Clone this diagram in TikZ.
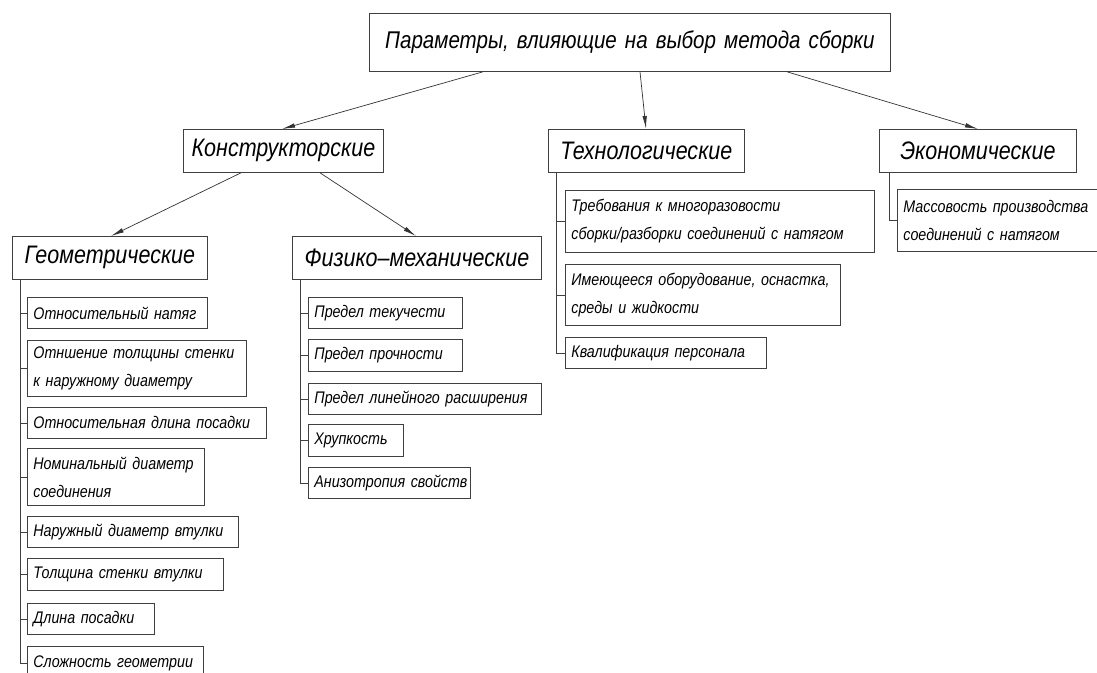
\documentclass[tikz,border=0pt]{standalone}
\usepackage{fontspec}
\setmainfont{Liberation Sans}[FakeStretch=0.85]
\usetikzlibrary{arrows.meta}
\newcommand\paramfont{\fontsize{24.2}{28}\selectfont\itshape}
\newcommand\grpfont{\fontsize{25.3}{30}\selectfont\itshape}
\newcommand\itemfont{\fontsize{16.8}{28}\selectfont\itshape}
\tikzset{
  box/.style={draw=black!75, line width=0.8pt, anchor=north west, inner xsep=6pt, inner ysep=0pt, align=left},
  grp/.style={box, font=\grpfont, minimum height=43pt, align=center},
  leaf/.style={box, font=\itemfont, minimum height=31pt},
  arr/.style={draw=black!80, line width=0.7pt, -{Latex[length=13pt,width=4.5pt]}},
  trunk/.style={draw=black!75, line width=0.7pt}
}
\begin{document}
\begin{tikzpicture}[x=1pt,y=1pt,yscale=-1,xscale=1]
\useasboundingbox[fill=white] (0,0) rectangle (1097,672);
\node[box, font=\paramfont, minimum height=58pt, text width=509pt, align=center] (root) at (369,13) {Параметры, влияющие на выбор метода сборки};
\node[grp, text width=188pt] (konstr) at (183,129) {Конструкторские};
\node[grp, text width=184pt] (tech) at (548,129) {Технологические};
\node[grp, text width=185pt] (econ) at (879,129) {Экономические};
\node[grp, text width=183pt] (geom) at (12,236) {Геометрические};
\node[grp, text width=237pt] (phys) at (292,236) {Физико–механические};
\draw[arr] ([xshift=114pt]root.south west) -- ([xshift=99pt]konstr.north west);
\draw[arr] ([xshift=271pt]root.south west) -- ([xshift=98pt]tech.north west);
\draw[arr] ([xshift=418pt]root.south west) -- ([xshift=99pt]econ.north west);
\draw[arr] ([xshift=58pt]konstr.south west) -- ([xshift=99pt]geom.north west);
\draw[arr] ([xshift=137pt]konstr.south west) -- ([xshift=124pt]phys.north west);
\node[leaf, text width=168pt] (g1) at (27,297) {Относительный~натяг};
\node[leaf, text width=207pt, minimum height=56pt] (g2) at (27,340) {Отншение~толщины~стенки\\к~наружному~диаметру};
\node[leaf, text width=227pt] (g3) at (27,407) {Относительная~длина~посадки};
\node[leaf, text width=165pt, minimum height=57pt] (g4) at (27,448) {Номинальный~диаметр\\соединения};
\node[leaf, text width=199pt] (g5) at (27,516) {Наружный~диаметр~втулки};
\node[leaf, text width=184pt, minimum height=32pt] (g6) at (27,558) {Толщина~стенки~втулки};
\node[leaf, text width=115pt] (g7) at (27,603) {Длина~посадки};
\node[leaf, text width=164pt, minimum height=34pt] (g8) at (27,646) {Сложность~геометрии};
\node[leaf, text width=142pt] (p1) at (308,297) {Предел~текучести};
\node[leaf, text width=142pt, minimum height=32pt] (p2) at (308,339) {Предел~прочности};
\node[leaf, text width=221pt] (p3) at (308,383) {Предел~линейного~расширения};
\node[leaf, text width=83pt, minimum height=32pt] (p4) at (308,424) {Хрупкость};
\node[leaf, text width=150pt] (p5) at (308,467) {Анизотропия~свойств};
\node[leaf, text width=297pt, minimum height=62pt] (t1) at (565,190) {Требования~к~многоразовости\\сборки/разборки~соединений~с~натягом};
\node[leaf, text width=263pt, minimum height=61pt] (t2) at (565,264) {Имеющееся~оборудование,~оснастка,\\среды~и~жидкости};
\node[leaf, text width=189pt] (t3) at (565,337) {Квалификация~персонала};
\node[leaf, text width=210pt, minimum height=62pt] (e1) at (897,189) {Массовость~производства\\соединений~с~натягом};
\foreach \c in {g1,g2,g3,g4,g5,g6,g7,g8}
  \draw[trunk] ([xshift=8pt]geom.south west) |- (\c.west);
\foreach \c in {p1,p2,p3,p4,p5}
  \draw[trunk] ([xshift=8pt]phys.south west) |- (\c.west);
\foreach \c in {t1,t2,t3}
  \draw[trunk] ([xshift=8pt]tech.south west) |- (\c.west);
\draw[trunk] ([xshift=10pt]econ.south west) |- (e1.west);
\end{tikzpicture}
\end{document}
